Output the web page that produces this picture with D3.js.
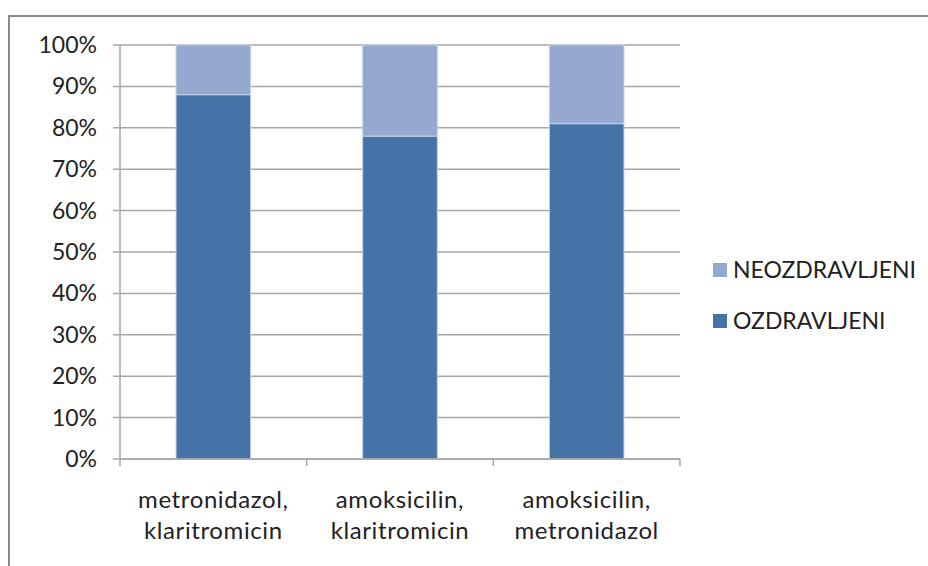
<!DOCTYPE html>
<html>
<head>
<meta charset="utf-8">
<script src="https://cdn.jsdelivr.net/npm/d3@7"></script>
<style>
  html, body { margin: 0; padding: 0; background: #fff; }
  #chart { width: 928px; height: 566px; overflow: hidden; }
  text { font-family: Lato, "Open Sans", sans-serif; fill: #222; }
</style>
</head>
<body>
<div id="chart"></div>
<script>
const categories = ["metronidazol, klaritromicin", "amoksicilin, klaritromicin", "amoksicilin, metronidazol"];
const seriesNames = ["OZDRAVLJENI", "NEOZDRAVLJENI"];
const ozdravljeni = [88, 78, 81];
const neozdravljeni = [12, 22, 19];
const yTickValues = [0, 10, 20, 30, 40, 50, 60, 70, 80, 90, 100];
const colors = { OZDRAVLJENI: "#4572a7", NEOZDRAVLJENI: "#95a9d0" };

const width = 560, height = 414, margin = { top: 45, left: 120 };

const svg = d3.select("#chart").append("svg")
    .attr("width", 928)
    .attr("height", 566);

// outer chart frame (cut off at right and bottom like the original)
svg.append("rect")
    .attr("x", 9)
    .attr("y", 16)
    .attr("width", 1000)
    .attr("height", 600)
    .attr("fill", "none")
    .attr("stroke", "#8c8c8c")
    .attr("stroke-width", 2);

const g = svg.append("g")
    .attr("transform", `translate(${margin.left},${margin.top})`);

const table = categories.map((c, i) => ({ category: c, OZDRAVLJENI: ozdravljeni[i], NEOZDRAVLJENI: neozdravljeni[i] }));
const stacked = d3.stack().keys(seriesNames)(table);

const xScale = d3.scaleBand()
    .domain(categories)
    .range([0, width])
    .paddingInner(0.6)
    .paddingOuter(0.3);

const xOuter = d3.scaleBand().domain(categories).range([0, width]);

const yScale = d3.scaleLinear()
    .domain([0, 100])
    .range([height, 0]);

// gridlines + y ticks
g.append("g")
    .selectAll("line")
    .data(yTickValues)
    .enter()
    .append("line")
    .attr("x1", -7)
    .attr("x2", width)
    .attr("y1", d => yScale(d))
    .attr("y2", d => yScale(d))
    .attr("stroke", "#a6a6a6")
    .attr("stroke-width", 1.5);

g.append("g")
    .selectAll("text")
    .data(yTickValues)
    .enter()
    .append("text")
    .attr("x", -23)
    .attr("y", d => yScale(d))
    .attr("dy", "0.35em")
    .style("text-anchor", "end")
    .style("font-size", "23px")
    .text(d => d3.format(".0%")(d / 100));

// bars
g.append("g")
    .selectAll("g")
    .data(stacked)
    .enter()
    .append("g")
    .attr("fill", d => colors[d.key])
    .selectAll("rect")
    .data(d => d)
    .enter()
    .append("rect")
    .attr("x", d => xScale(d.data.category))
    .attr("width", xScale.bandwidth())
    .attr("y", d => yScale(d[1]))
    .attr("height", d => yScale(d[0]) - yScale(d[1]))
    .attr("stroke", "#c9d4e8")
    .attr("stroke-width", 1);

// y axis line
g.append("line")
    .attr("x1", 0).attr("x2", 0)
    .attr("y1", 0).attr("y2", height)
    .attr("stroke", "#a6a6a6")
    .attr("stroke-width", 1.5);

// x axis line and category boundary ticks
g.append("line")
    .attr("x1", 0).attr("x2", width)
    .attr("y1", height).attr("y2", height)
    .attr("stroke", "#a6a6a6")
    .attr("stroke-width", 1.5);

const boundaries = categories.map(c => xOuter(c)).concat([width]);
g.append("g")
    .selectAll("line")
    .data(boundaries)
    .enter()
    .append("line")
    .attr("x1", d => d).attr("x2", d => d)
    .attr("y1", height).attr("y2", height + 7)
    .attr("stroke", "#a6a6a6")
    .attr("stroke-width", 1.5);

// category labels, two lines each
const labels = g.append("g")
    .selectAll("text")
    .data(categories)
    .enter()
    .append("text")
    .attr("x", d => xScale(d) + xScale.bandwidth() / 2)
    .attr("y", height + 49)
    .style("text-anchor", "middle")
    .style("font-size", "24px")
    .style("letter-spacing", "0.6px");

labels.selectAll("tspan")
    .data(d => { const p = d.split(", "); return [p[0] + ",", p[1]]; })
    .enter()
    .append("tspan")
    .attr("x", function () { return d3.select(this.parentNode).attr("x"); })
    .attr("dy", (d, i) => i === 0 ? 0 : 31)
    .text(d => d);

// legend
const legendItems = seriesNames.slice().reverse();
const legend = svg.append("g")
    .selectAll("g")
    .data(legendItems)
    .enter()
    .append("g")
    .attr("transform", (d, i) => `translate(713, ${270 + i * 51})`);

legend.append("rect")
    .attr("x", 0)
    .attr("y", -7)
    .attr("width", 14)
    .attr("height", 14)
    .attr("fill", d => colors[d]);

legend.append("text")
    .attr("x", 20)
    .attr("y", 0)
    .attr("dy", "0.36em")
    .style("font-size", "23px")
    .text(d => d);
</script>
</body>
</html>
